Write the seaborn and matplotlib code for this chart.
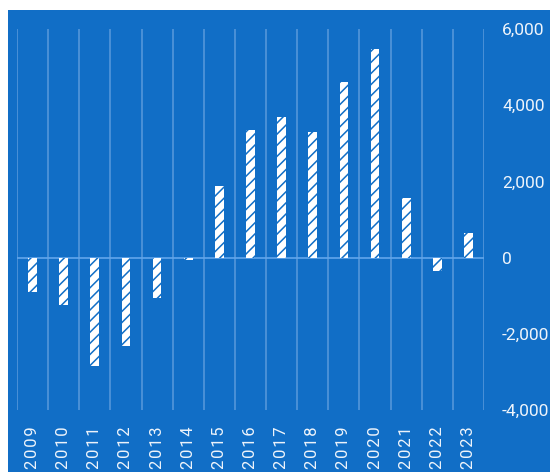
import matplotlib
matplotlib.use("Agg")
import matplotlib.pyplot as plt
import seaborn as sns
import pandas as pd
import numpy as np
from matplotlib.patches import Rectangle
from matplotlib.ticker import FuncFormatter, FixedLocator

years = ["2009", "2010", "2011", "2012", "2013", "2014", "2015", "2016",
         "2017", "2018", "2019", "2020", "2021", "2022", "2023"]
values = [-900, -1250, -2850, -2320, -1070, -50, 1870, 3340,
          3680, 3290, 4600, 5480, 1575, -340, 650]
y_ticks = [-4000, -2000, 0, 2000, 4000, 6000]

BG = "#116EC6"
GRID = "#4F93D8"
ZERO = "#62A6EC"
TXT = "#EEF4FB"

sns.set_theme(style="white")
plt.rcParams["font.family"] = ["Roboto", "DejaVu Sans"]
plt.rcParams["hatch.linewidth"] = 1.1

fig = plt.figure(figsize=(5.5, 4.72), dpi=100)
fig.patch.set_facecolor("white")
fig.patches.append(Rectangle((8 / 550, 0), 1, 1 - 10 / 472, transform=fig.transFigure,
                             facecolor=BG, edgecolor="none", zorder=-10))

ax = fig.add_axes([17 / 550, 1 - 410 / 472, (484 - 17) / 550, (410 - 29) / 472])
ax.set_facecolor(BG)

df = pd.DataFrame({"year": years, "value": values})
sns.barplot(data=df, x="year", y="value", color="white", width=0.28,
            edgecolor=BG, linewidth=0, saturation=1, ax=ax, zorder=3)
for p in ax.patches:
    p.set_hatch("///")
    p.set_edgecolor(BG)
    p.set_linewidth(0)

ax.set_xlim(-0.5, len(years) - 0.5)
ax.set_ylim(-4000, 6000)
ax.axhline(0, color=ZERO, lw=1.2, zorder=2)

ax.xaxis.set_minor_locator(FixedLocator(np.arange(-0.5, len(years), 1.0)))
ax.grid(which="major", visible=False)
ax.grid(which="minor", axis="x", visible=True, color=GRID, lw=1.3, zorder=1)

ax.yaxis.tick_right()
ax.set_yticks(y_ticks)
ax.yaxis.set_major_formatter(FuncFormatter(lambda v, p: f"{int(v):,}"))
ax.tick_params(axis="y", length=0, pad=13, labelsize=12.5, labelcolor=TXT)
ax.set_xticks(range(len(years)))
ax.set_xticklabels(["\u200a".join(y) for y in years], rotation=90)
ax.tick_params(axis="x", which="both", length=0, pad=12, labelsize=12, labelcolor=TXT)
for lbl in ax.get_xticklabels():
    lbl.set_verticalalignment("top")

ax.set_xlabel("")
ax.set_ylabel("")
for s in ax.spines.values():
    s.set_visible(False)

fig.savefig("out.png", dpi=100, facecolor=fig.get_facecolor())
